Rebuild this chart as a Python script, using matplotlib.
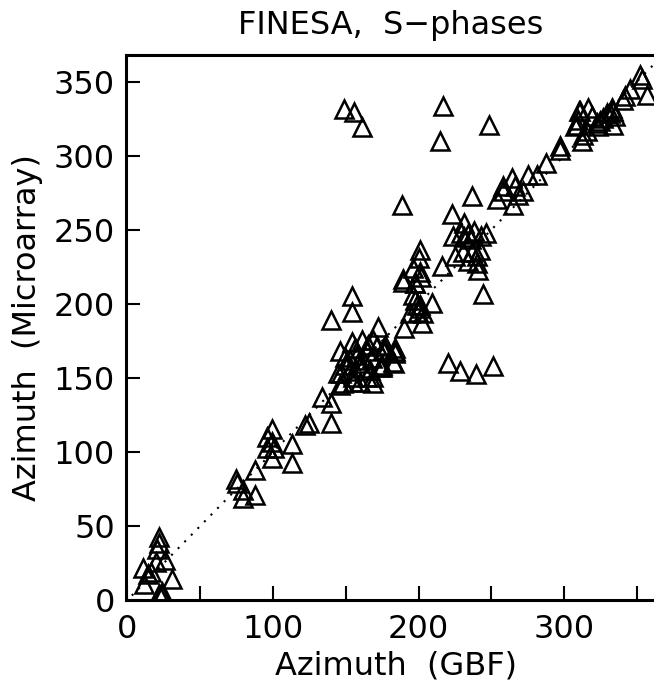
import numpy as np
import matplotlib.pyplot as plt

# azimuth pairs (GBF vs microarray), degrees
gbf = [
    21.9, 21.6, 20.5, 25.8, 19.6, 10.9, 15.9, 14.3, 11.3, 30.4, 23.5, 23.5, 22.0,
    74.6, 75.0, 79.6, 79.6, 87.6, 87.6,
    99.1, 95.7, 99.1, 95.7, 100.8, 99.1, 112.8, 112.8, 122.0, 125.0,
    133.5, 139.6, 139.6,
    146.0, 154.0, 161.0, 169.0, 177.0, 183.8, 182.7, 174.7, 167.8, 162.0, 152.9,
    144.9, 152.9, 148.3, 159.8, 169.0, 173.5, 156.4, 164.4, 157.5, 165.5, 171.3,
    149.5, 161.0, 166.7, 155.2, 164.4, 169.0, 158.6, 149.5, 146.5, 146.0, 155.2,
    175.8, 183.8, 183.2, 174.7, 177.0, 183.8, 172.4,
    139.6, 154.5, 154.5, 190.0, 202.2,
    196.4, 198.8, 194.2, 203.3, 201.0, 197.6, 199.9, 201.0, 209.0, 197.6, 189.6,
    201.0, 200.5, 196.4, 201.0, 201.5, 189.6, 197.6,
    216.0, 244.5, 220.0, 228.5, 239.5, 251.4,
    222.8, 231.5, 225.0, 230.8, 236.6, 240.0, 242.3, 234.2, 240.0, 241.1,
    224.0, 229.0, 234.0, 238.0, 243.0, 246.0, 236.0, 231.0,
    188.5, 236.6, 253.7, 265.2, 268.6, 272.0, 258.3,
    264.0, 266.3, 258.3, 275.5, 281.2, 287.4, 297.3, 297.3,
    313.3, 312.2, 310.5, 316.7, 308.7, 315.6,
    332.8, 333.9, 331.6, 335.0, 329.3, 327.0, 324.7, 322.5, 319.0, 311.0, 309.8,
    307.6, 323.6, 333.9,
    340.7, 341.9, 345.4, 352.2, 353.6, 356.8,
    148.8, 155.9, 161.4, 216.6, 214.8, 248.7,
]
micro = [
    42.4, 38.3, 34.2, 27.0, 25.9, 21.4, 19.1, 17.3, 10.8, 14.2, 5.6, 3.4, 4.0,
    81.5, 79.3, 74.3, 68.7, 70.9, 87.8,
    115.3, 110.4, 107.0, 102.5, 102.5, 95.7, 105.4, 92.4, 118.2, 119.8,
    137.4, 133.3, 119.4,
    167.8, 174.5, 175.7, 175.7, 168.9, 167.8, 161.0, 158.8, 163.3, 162.2, 162.2,
    153.2, 154.3, 146.4, 147.5, 150.9, 157.6, 170.0, 167.8, 165.5, 172.3, 171.2,
    158.8, 156.6, 155.4, 150.9, 150.9, 146.4, 159.9, 164.4, 153.2, 145.3, 147.5,
    168.9, 167.1, 160.3, 157.6, 172.3, 170.0, 184.2,
    189.2, 205.0, 194.8, 183.6, 187.0,
    206.0, 199.3, 193.7, 193.7, 197.0, 202.7, 194.8, 199.3, 200.5, 214.0, 215.0,
    236.5, 230.9, 224.1, 221.8, 218.0, 216.7, 214.0,
    225.7, 206.8, 160.3, 154.3, 152.7, 158.3,
    260.8, 254.5, 232.0, 235.3, 235.3, 232.0, 236.0, 228.6, 227.5, 223.0,
    246.0, 248.0, 247.0, 249.0, 246.0, 248.0, 244.0, 245.0,
    266.9, 273.0, 270.7, 266.9, 273.6, 276.0, 276.0,
    285.0, 279.3, 279.3, 287.2, 287.2, 295.0, 306.3, 304.0,
    314.2, 309.7, 330.0, 332.2, 321.0, 316.4,
    332.2, 330.0, 328.9, 326.6, 328.9, 325.5, 323.2, 322.1, 326.6, 330.0, 324.3,
    319.8, 319.8, 320.9,
    337.8, 340.0, 345.0, 354.7, 351.5, 341.2,
    331.5, 329.5, 319.4, 333.8, 309.7, 321.0,
]
one_to_one = [3, 365]

fig = plt.figure(figsize=(6.54, 6.89), dpi=100)
ax = fig.add_axes([126 / 654, 89 / 689, 540 / 654, 545 / 689])

ax.plot(one_to_one, one_to_one, color='black', linestyle=(0, (1, 3.5)), linewidth=1.5)
ax.plot(gbf, micro, linestyle='none', marker='^', markersize=13.5,
        markerfacecolor='none', markeredgecolor='black', markeredgewidth=1.8)

ax.set_xlim(-1, 370)
ax.set_ylim(0, 368)
ax.set_xticks([0, 100, 200, 300])
ax.set_xticks([50, 150, 250, 350], minor=True)
ax.set_yticks(np.arange(0, 351, 50))

ax.tick_params(which='both', direction='in', length=10, width=1.5,
               labelsize=23, pad=8)
ax.tick_params(axis='x', pad=10)
for s in ax.spines.values():
    s.set_linewidth(2.2)

ax.set_xlabel('Azimuth  (GBF)', fontsize=23, labelpad=4)
ax.set_ylabel('Azimuth  (Microarray)', fontsize=23, labelpad=8)
fig.text(0.597, 0.985, 'FINESA,  S\u2212phases', fontsize=23, ha='center', va='top')

fig.savefig('out.png', dpi=100)
